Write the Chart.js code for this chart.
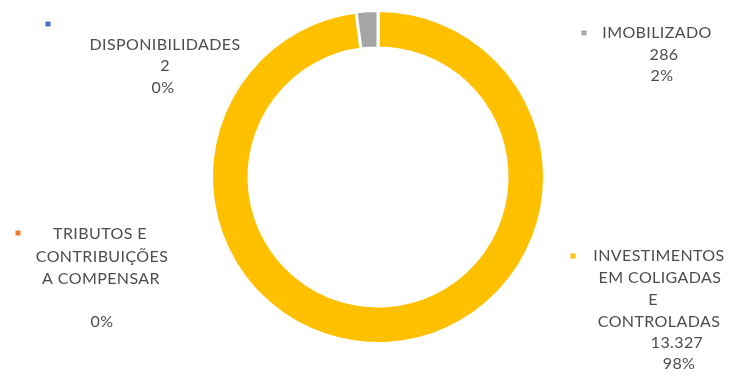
<!DOCTYPE html>
<html>
<head>
<meta charset="utf-8">
<script src="https://cdn.jsdelivr.net/npm/chart.js@4.4.1/dist/chart.umd.min.js"></script>
<style>
  html, body { margin: 0; padding: 0; background: #ffffff; }
  #wrap { width: 729px; height: 377px; position: relative; }
</style>
</head>
<body>
<div id="wrap"><canvas id="c" width="729" height="377"></canvas></div>
<script>
// ---- data ----
const categories = [
  ['DISPONIBILIDADES'],
  ['TRIBUTOS E', 'CONTRIBUIÇÕES', 'A COMPENSAR'],
  ['INVESTIMENTOS', 'EM COLIGADAS', 'E', 'CONTROLADAS'],
  ['IMOBILIZADO']
];
const values = [2, 0, 13327, 286];
const colors = ['#4472C4', '#ED7D31', '#FFC000', '#A5A5A5'];

// ---- label layout (offsets from doughnut centre) ----
const labelLayout = [
  { key: [-330, -153], lines: [[-213, -132], [-213, -111], [-215, -89]] },
  { key: [-360, 56], lines: [[-278, 57], [-276, 80], [-277, 102], [-276, 123], [-276, 145]] },
  { key: [195, 79], lines: [[281, 79], [282, 101], [275, 123], [281, 145], [299, 166], [301, 187]] },
  { key: [206, -144], lines: [[279, -144], [286, -122], [284, -101]] }
];

const total = values.reduce((a, b) => a + b, 0);
const fmt = v => v === 0 ? '' : v.toLocaleString('pt-BR');

const labelPlugin = {
  id: 'excelLabels',
  afterDraw(chart) {
    const ctx = chart.ctx;
    const arc = chart.getDatasetMeta(0).data[0];
    const cx = arc.x, cy = arc.y;
    ctx.save();
    ctx.font = '16px Lato, "Open Sans", sans-serif';
    try { ctx.letterSpacing = '0.4px'; } catch (e) {}
    ctx.textAlign = 'center';
    ctx.textBaseline = 'middle';
    categories.forEach((cat, i) => {
      const lay = labelLayout[i];
      const texts = cat.concat([fmt(values[i]), Math.round(values[i] / total * 100) + '%']);
      ctx.fillStyle = '#4d4d4d';
      texts.forEach((t, j) => {
        const p = lay.lines[j];
        ctx.fillText(t, cx + p[0], cy + p[1]);
      });
      ctx.fillStyle = colors[i];
      ctx.fillRect(cx + lay.key[0] - 2.5, cy + lay.key[1] - 2.5, 5, 5);
    });
    ctx.restore();
  }
};

new Chart(document.getElementById('c'), {
  type: 'doughnut',
  data: {
    labels: categories,
    datasets: [{
      data: values,
      backgroundColor: colors,
      borderColor: '#ffffff',
      borderWidth: 3,
      hoverOffset: 0
    }]
  },
  options: {
    responsive: false,
    animation: false,
    cutout: '77.5%',
    layout: { padding: { left: 210, right: 183, top: 9, bottom: 32 } },
    plugins: { legend: { display: false }, tooltip: { enabled: false } }
  },
  plugins: [labelPlugin]
});
</script>
</body>
</html>
